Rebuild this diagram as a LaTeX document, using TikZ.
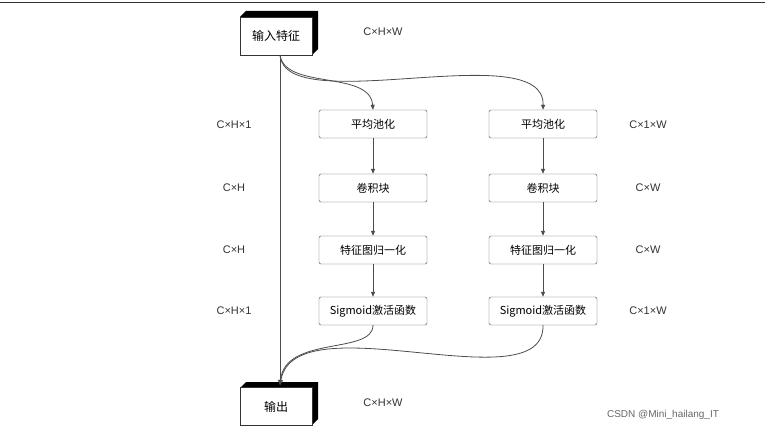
\documentclass[tikz,border=0pt]{standalone}
\usepackage{fontspec}
\setmainfont{Liberation Sans}
\newfontfamily\cjk{Noto Sans CJK SC}
\usetikzlibrary{arrows.meta}
\begin{document}
\begin{tikzpicture}[x=1pt,y=-1pt,
  box/.style={draw=black!70,rounded corners=1.5pt,minimum width=108pt,minimum height=28pt,font=\cjk\fontsize{11}{13}\selectfont,inner sep=0},
  cube/.style={draw=black!80,fill=white,minimum width=72pt,minimum height=38pt,font=\cjk\fontsize{12}{14}\selectfont,inner sep=0},
  lab/.style={font=\fontsize{11}{13}\selectfont,text=black!80},
  ln/.style={draw=black!70,line width=0.8pt},
  arr/.style={ln,-{Triangle[length=5pt,width=4pt]}}]
\useasboundingbox (0,0) rectangle (765,430);
\draw[black!80,line width=0.8pt] (0,2) -- (765,2);
% 3D cubes
\fill[black] (240,17) -- (246,11) -- (318,11) -- (318,49) -- (312,55) -- (312,17) -- cycle;
\node[cube] (in) at (276,36) {输入特征};
\fill[black] (240,388) -- (246,382) -- (318,382) -- (318,419) -- (312,425) -- (312,388) -- cycle;
\node[cube] (out) at (276,406.5) {输出};
\node[lab] (l0) at (383,32) {C×H×W};
\node[lab] (l9) at (383,403) {C×H×W};
\foreach \n/\y/\t in {1/124/平均池化,2/188/卷积块,3/250/特征图归一化,4/311/Sigmoid激活函数}{
  \node[box] (a\n) at (373,\y) {\t};
  \node[box] (b\n) at (543,\y) {\t};
}
\node[lab] at (234,125) {C×H×1};
\node[lab] at (234,188) {C×H};
\node[lab] at (234,250) {C×H};
\node[lab] at (234,311) {C×H×1};
\node[lab] at (648,125) {C×1×W};
\node[lab] at (648,188) {C×W};
\node[lab] at (648,250) {C×W};
\node[lab] at (648,311) {C×1×W};
\foreach \c in {a,b}{
  \draw[arr] (\c1) -- (\c2);
  \draw[arr] (\c2) -- (\c3);
  \draw[arr] (\c3) -- (\c4);
}
\coordinate (s) at (280,55);
\coordinate (e) at (280,385);
\draw[arr] (s) -- (e);
\draw[arr] (s) .. controls (285,90) and (370,70) .. (a1.north);
\draw[arr] (s) .. controls (285,120) and (545,35) .. (b1.north);
\draw[arr] (a4.south) .. controls (373,355) and (285,335) .. (e);
\draw[arr] (b4.south) .. controls (545,405) and (295,300) .. (e);
\node[font=\fontsize{10}{12}\selectfont,text=black!60] at (663,415) {CSDN @Mini\_hailang\_IT};
\end{tikzpicture}
\end{document}
